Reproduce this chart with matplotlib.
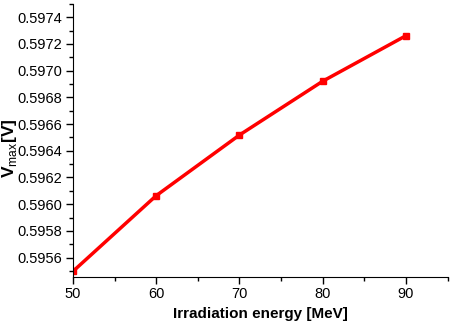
import matplotlib
matplotlib.use('Agg')
import matplotlib.pyplot as plt
from matplotlib.ticker import MultipleLocator, FormatStrFormatter

energy = [50, 60, 70, 80, 90]
vmax = [0.595497, 0.596064, 0.596518, 0.596921, 0.597262]

plt.rcParams['font.family'] = 'Liberation Sans'
plt.rcParams['mathtext.fontset'] = 'custom'
plt.rcParams['mathtext.rm'] = 'Liberation Sans'
plt.rcParams['mathtext.bf'] = 'Liberation Sans:bold'

fig = plt.figure(figsize=(4.53, 3.27), dpi=100)
ax = fig.add_axes([0.161, 0.153, 0.827, 0.835])

ax.plot(energy, vmax, color='red', linewidth=2.5, marker='s', markersize=4.5)

ax.set_xlim(50, 95)
ax.set_ylim(0.595455, 0.5975)
ax.xaxis.set_major_locator(MultipleLocator(10))
ax.xaxis.set_minor_locator(MultipleLocator(5))
ax.yaxis.set_major_locator(MultipleLocator(0.0002))
ax.yaxis.set_minor_locator(MultipleLocator(0.0001))
ax.yaxis.set_major_formatter(FormatStrFormatter('%.4f'))

for side in ['top', 'right']:
    ax.spines[side].set_visible(False)
ax.tick_params(which='both', direction='out', labelsize=10.5, width=1)
ax.tick_params(which='major', length=5, pad=2.5)
ax.tick_params(which='minor', length=3)

ax.set_xlabel('Irradiation energy [MeV]', fontsize=11, fontweight='bold')
ax.set_ylabel(r'$\mathbf{V}_{\rm max}\mathbf{[V]}$', fontsize=12.5)
ax.yaxis.set_label_coords(-0.143, 0.47)

fig.savefig('out.png', dpi=100)
